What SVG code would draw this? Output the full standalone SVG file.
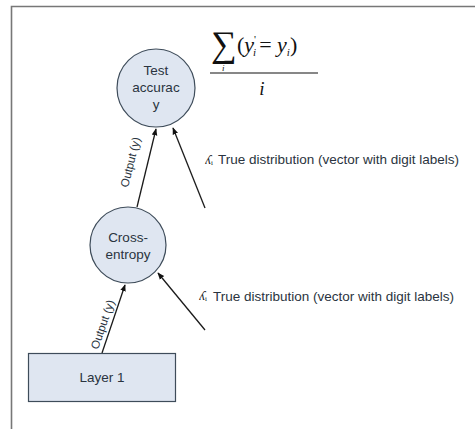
<svg xmlns="http://www.w3.org/2000/svg" width="475" height="429" viewBox="0 0 475 429">
<style>
.node{fill:#dfe6f1;stroke:#3e4c5a;stroke-width:1.2}
.lbl{font-family:"Liberation Sans",Arial,sans-serif;font-size:13.5px;fill:#2a3440}
.el{font-family:"Liberation Sans",Arial,sans-serif;font-size:11.5px;fill:#2a3440}
.math{font-family:"Liberation Serif","Times New Roman",serif;fill:#111}
.edge{stroke:#1a1a1a;stroke-width:1.3;fill:none;marker-end:url(#ah)}
</style>
<defs>
<marker id="ah" viewBox="0 0 10 10" refX="9" refY="5" markerWidth="7" markerHeight="7" orient="auto" markerUnits="userSpaceOnUse">
<path d="M0,1 L10,5 L0,9 z" fill="#111"/>
</marker>
</defs>
<rect width="475" height="429" fill="#fff"/>
<path d="M11.5,429 V6.5 H475" fill="none" stroke="#777" stroke-width="1.6"/>

<g id="connectors">
<line class="edge" x1="102" y1="353" x2="125" y2="285"/>
<line class="edge" x1="205" y1="330" x2="158" y2="273"/>
<line class="edge" x1="137" y1="207" x2="156" y2="129"/>
<line class="edge" x1="205" y1="208" x2="173" y2="128"/>
<text class="el" transform="translate(98,350) rotate(-71)">Output (y)</text>
<text class="el" transform="translate(128,188) rotate(-76)">Output (y)</text>
</g>

<g id="test-accuracy">
<circle class="node" cx="156" cy="88" r="39"/>
<text class="lbl" text-anchor="middle" x="156" y="75">Test</text>
<text class="lbl" text-anchor="middle" x="156" y="92">accurac</text>
<text class="lbl" text-anchor="middle" x="156" y="109">y</text>
</g>

<g id="formula">
<text class="math" x="211" y="56" font-size="36">∑</text>
<text class="math" x="222" y="71" font-size="9" font-style="italic">i</text>
<text class="math" x="237" y="52" font-size="22">(<tspan font-style="italic">y</tspan><tspan font-size="11" dy="-9">'</tspan><tspan font-size="11" font-style="italic" dx="-3" dy="13">i</tspan><tspan dy="-4" dx="3">= </tspan><tspan font-style="italic">y</tspan><tspan font-size="11" font-style="italic" dy="4">i</tspan><tspan dy="-4">)</tspan></text>
<line x1="210" y1="73" x2="318" y2="73" stroke="#111" stroke-width="1.2"/>
<text class="math" x="262" y="95" font-size="19" font-style="italic" text-anchor="middle">i</text>
</g>

<g id="true-dist-1">
<text class="math" transform="translate(211,158) rotate(180)" font-size="13" font-style="italic" fill="#333">y</text>
<text class="math" x="211" y="165" font-size="7" fill="#333">i</text>
<text class="lbl" x="218" y="164">True distribution (vector with digit labels)</text>
</g>

<g id="cross-entropy">
<circle class="node" cx="128" cy="245" r="38"/>
<text class="lbl" text-anchor="middle" x="128" y="242">Cross-</text>
<text class="lbl" text-anchor="middle" x="128" y="259">entropy</text>
</g>

<g id="true-dist-2">
<text class="math" transform="translate(205,294) rotate(180)" font-size="13" font-style="italic" fill="#333">y</text>
<text class="math" x="205" y="301" font-size="7" fill="#333">i</text>
<text class="lbl" x="213" y="301">True distribution (vector with digit labels)</text>
</g>

<g id="layer-1">
<rect class="node" x="28.5" y="353.5" width="147" height="48" stroke-width="1.6"/>
<text class="lbl" text-anchor="middle" x="102" y="382">Layer 1</text>
</g>
</svg>
